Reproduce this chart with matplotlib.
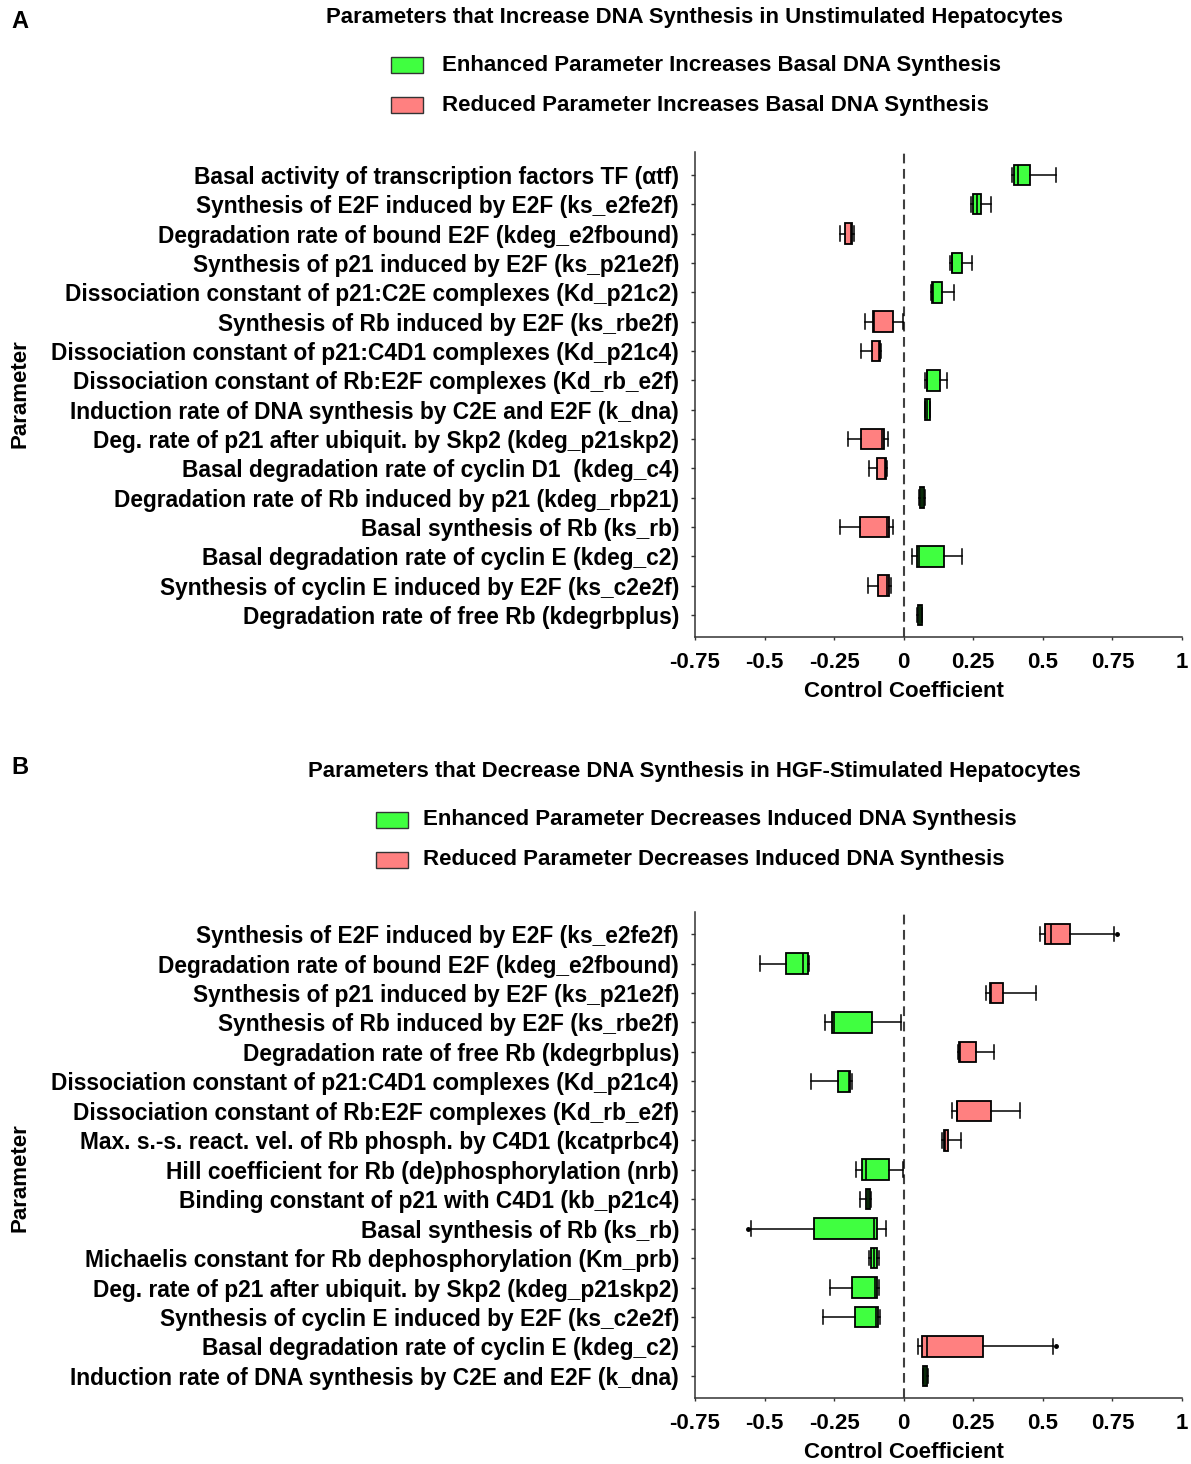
import numpy as np
import matplotlib
matplotlib.use("Agg")
import matplotlib.pyplot as plt
from matplotlib.patches import Rectangle
from matplotlib.transforms import blended_transform_factory

plt.rcParams["font.family"] = ["Liberation Sans", "DejaVu Sans"]
plt.rcParams["font.weight"] = "bold"
plt.rcParams["lines.scale_dashes"] = False

GREEN = "#40ff40"
RED = "#ff8080"

# ---- Panel A: parameters that increase DNA synthesis (unstimulated) ----
labels_a = [
    "Basal activity of transcription factors TF (\u03b1tf)",
    "Synthesis of E2F induced by E2F (ks_e2fe2f)",
    "Degradation rate of bound E2F (kdeg_e2fbound)",
    "Synthesis of p21 induced by E2F (ks_p21e2f)",
    "Dissociation constant of p21:C2E complexes (Kd_p21c2)",
    "Synthesis of Rb induced by E2F (ks_rbe2f)",
    "Dissociation constant of p21:C4D1 complexes (Kd_p21c4)",
    "Dissociation constant of Rb:E2F complexes (Kd_rb_e2f)",
    "Induction rate of DNA synthesis by C2E and E2F (k_dna)",
    "Deg. rate of p21 after ubiquit. by Skp2 (kdeg_p21skp2)",
    "Basal degradation rate of cyclin D1  (kdeg_c4)",
    "Degradation rate of Rb induced by p21 (kdeg_rbp21)",
    "Basal synthesis of Rb (ks_rb)",
    "Basal degradation rate of cyclin E (kdeg_c2)",
    "Synthesis of cyclin E induced by E2F (ks_c2e2f)",
    "Degradation rate of free Rb (kdegrbplus)",
]
lo_a  = [0.390, 0.243, -0.230, 0.168, 0.097, -0.139, -0.152, 0.078, 0.076, -0.200, -0.126, 0.056, -0.229, 0.028, -0.128, 0.048]
q1_a  = [0.397, 0.248, -0.212, 0.172, 0.103, -0.112, -0.113, 0.082, 0.077, -0.152, -0.095, 0.059, -0.157, 0.047, -0.094, 0.051]
med_a = [0.409, 0.263, -0.188, 0.175, 0.107, -0.108, -0.089, 0.083, 0.085, -0.077, -0.066, 0.065, -0.061, 0.056, -0.059, 0.058]
q3_a  = [0.455, 0.279, -0.185, 0.209, 0.138, -0.040, -0.086, 0.132, 0.093, -0.072, -0.062, 0.073, -0.053, 0.146, -0.054, 0.065]
hi_a  = [0.546, 0.314, -0.180, 0.246, 0.180, -0.001, -0.083, 0.156, 0.094, -0.055, -0.059, 0.076, -0.038, 0.210, -0.047, 0.067]
col_a = ["g", "g", "r", "g", "g", "r", "r", "g", "g", "r", "r", "g", "r", "g", "r", "g"]

# ---- Panel B: parameters that decrease DNA synthesis (HGF-stimulated) ----
labels_b = [
    "Synthesis of E2F induced by E2F (ks_e2fe2f)",
    "Degradation rate of bound E2F (kdeg_e2fbound)",
    "Synthesis of p21 induced by E2F (ks_p21e2f)",
    "Synthesis of Rb induced by E2F (ks_rbe2f)",
    "Degradation rate of free Rb (kdegrbplus)",
    "Dissociation constant of p21:C4D1 complexes (Kd_p21c4)",
    "Dissociation constant of Rb:E2F complexes (Kd_rb_e2f)",
    "Max. s.-s. react. vel. of Rb phosph. by C4D1 (kcatprbc4)",
    "Hill coefficient for Rb (de)phosphorylation (nrb)",
    "Binding constant of p21 with C4D1 (kb_p21c4)",
    "Basal synthesis of Rb (ks_rb)",
    "Michaelis constant for Rb dephosphorylation (Km_prb)",
    "Deg. rate of p21 after ubiquit. by Skp2 (kdeg_p21skp2)",
    "Synthesis of cyclin E induced by E2F (ks_c2e2f)",
    "Basal degradation rate of cyclin E (kdeg_c2)",
    "Induction rate of DNA synthesis by C2E and E2F (k_dna)",
]
lo_b  = [0.489, -0.517, 0.297, -0.284, 0.196, -0.334, 0.173, 0.138, -0.170, -0.157, -0.550, -0.125, -0.266, -0.290, 0.053, 0.068]
q1_b  = [0.507, -0.422, 0.309, -0.257, 0.200, -0.235, 0.190, 0.143, -0.151, -0.135, -0.321, -0.116, -0.186, -0.176, 0.064, 0.070]
med_b = [0.531, -0.362, 0.312, -0.249, 0.202, -0.198, 0.193, 0.147, -0.134, -0.128, -0.107, -0.107, -0.104, -0.101, 0.082, 0.077]
q3_b  = [0.598, -0.345, 0.356, -0.113, 0.258, -0.192, 0.315, 0.158, -0.053, -0.121, -0.095, -0.096, -0.096, -0.092, 0.284, 0.084]
hi_b  = [0.755, -0.340, 0.476, -0.011, 0.323, -0.185, 0.417, 0.206, -0.002, -0.117, -0.064, -0.089, -0.089, -0.085, 0.536, 0.086]
col_b = ["r", "g", "r", "g", "r", "g", "r", "r", "g", "g", "g", "g", "g", "g", "r", "g"]

# outlying points drawn as small dots
fliers_b = {0: [0.767], 10: [-0.561], 14: [0.549]}

W, H = 1191, 1464
FS = 16
FS_TICK = 16.4


def fx(px):
    return px / W


def fy(py):
    return 1 - py / H


def draw_panel(ax, labels, lo, q1, med, q3, hi, cols, fliers, ylim):
    stats = []
    for i in range(len(labels)):
        stats.append({"whislo": lo[i], "q1": q1[i], "med": med[i], "q3": q3[i],
                      "whishi": hi[i], "fliers": fliers.get(i, [])})
    pos = np.arange(len(labels))
    bp = ax.bxp(stats, positions=pos, vert=False, widths=0.7, capwidths=0.5,
                patch_artist=True,
                boxprops=dict(linewidth=1.3, edgecolor="black"),
                medianprops=dict(color="black", linewidth=1.2),
                whiskerprops=dict(color="black", linewidth=1.1),
                capprops=dict(color="black", linewidth=1.1),
                flierprops=dict(marker="o", markersize=2.5, markerfacecolor="black",
                                markeredgecolor="black"))
    for patch, c in zip(bp["boxes"], cols):
        patch.set_facecolor(GREEN if c == "g" else RED)

    ax.axvline(0, color="#404040", lw=1.5, dashes=(7, 4), zorder=0)
    ax.set_xlim(-0.75, 1.0)
    ax.set_ylim(*ylim)
    ax.set_yticks(pos)
    ax.set_yticklabels(labels, fontsize=FS_TICK, fontweight="bold")
    xt = [-0.75, -0.5, -0.25, 0, 0.25, 0.5, 0.75, 1]
    ax.set_xticks(xt)
    ax.set_xticklabels(["-0.75", "-0.5", "-0.25", "0", "0.25", "0.5", "0.75", "1"],
                       fontsize=FS, fontweight="bold")
    ax.tick_params(axis="y", length=3, width=1.0, pad=8.5, color="#333333")
    ax.tick_params(axis="x", length=2.5, width=1.0, pad=8, color="#333333")
    for s in ["top", "right"]:
        ax.spines[s].set_visible(False)
    for s in ["left", "bottom"]:
        ax.spines[s].set_linewidth(1.1)
        ax.spines[s].set_color("#333333")
    tr = blended_transform_factory(ax.transData, ax.transAxes)
    ax.text(0, -0.112, "Control Coefficient", transform=tr, ha="center", va="center",
            fontsize=FS, fontweight="bold")


fig = plt.figure(figsize=(W / 100, H / 100), dpi=100)

ax_a = fig.add_axes([fx(695), fy(637), fx(1182) - fx(695), (637 - 152) / H])
draw_panel(ax_a, labels_a, lo_a, q1_a, med_a, q3_a, hi_a, col_a, {}, (15.75, -0.78))

ax_b = fig.add_axes([fx(695), fy(1398), fx(1182) - fx(695), (1398 - 912) / H])
draw_panel(ax_b, labels_b, lo_b, q1_b, med_b, q3_b, hi_b, col_b, fliers_b, (15.75, -0.75))


def header(letter, ly, title, ty, leg_x, leg_ys, leg_texts, text_x):
    fig.text(fx(11), fy(ly), letter, fontsize=17, fontweight="bold", va="center", ha="left")
    fig.text(fx(694), fy(ty), title, fontsize=15.9, fontweight="bold", va="center", ha="center")
    for yc, txt, c in zip(leg_ys, leg_texts, [GREEN, RED]):
        fig.patches.append(Rectangle((fx(leg_x), fy(yc + 8)), 32 / W, 16 / H,
                                     transform=fig.transFigure, facecolor=c,
                                     edgecolor="#333333", linewidth=1.0))
        fig.text(fx(text_x), fy(yc), txt, fontsize=FS, fontweight="bold",
                 va="center", ha="left")


header("A", 21, "Parameters that Increase DNA Synthesis in Unstimulated Hepatocytes", 17,
       391, [65, 105],
       ["Enhanced Parameter Increases Basal DNA Synthesis",
        "Reduced Parameter Increases Basal DNA Synthesis"], 442)
header("B", 767, "Parameters that Decrease DNA Synthesis in HGF-Stimulated Hepatocytes", 771,
       376, [820, 860],
       ["Enhanced Parameter Decreases Induced DNA Synthesis",
        "Reduced Parameter Decreases Induced DNA Synthesis"], 423)

fig.text(fx(20), fy(394), "Parameter", rotation=90, fontsize=FS, fontweight="bold",
         va="center", ha="center")
fig.text(fx(20), fy(1178), "Parameter", rotation=90, fontsize=FS, fontweight="bold",
         va="center", ha="center")

fig.savefig("out.png", dpi=100)
